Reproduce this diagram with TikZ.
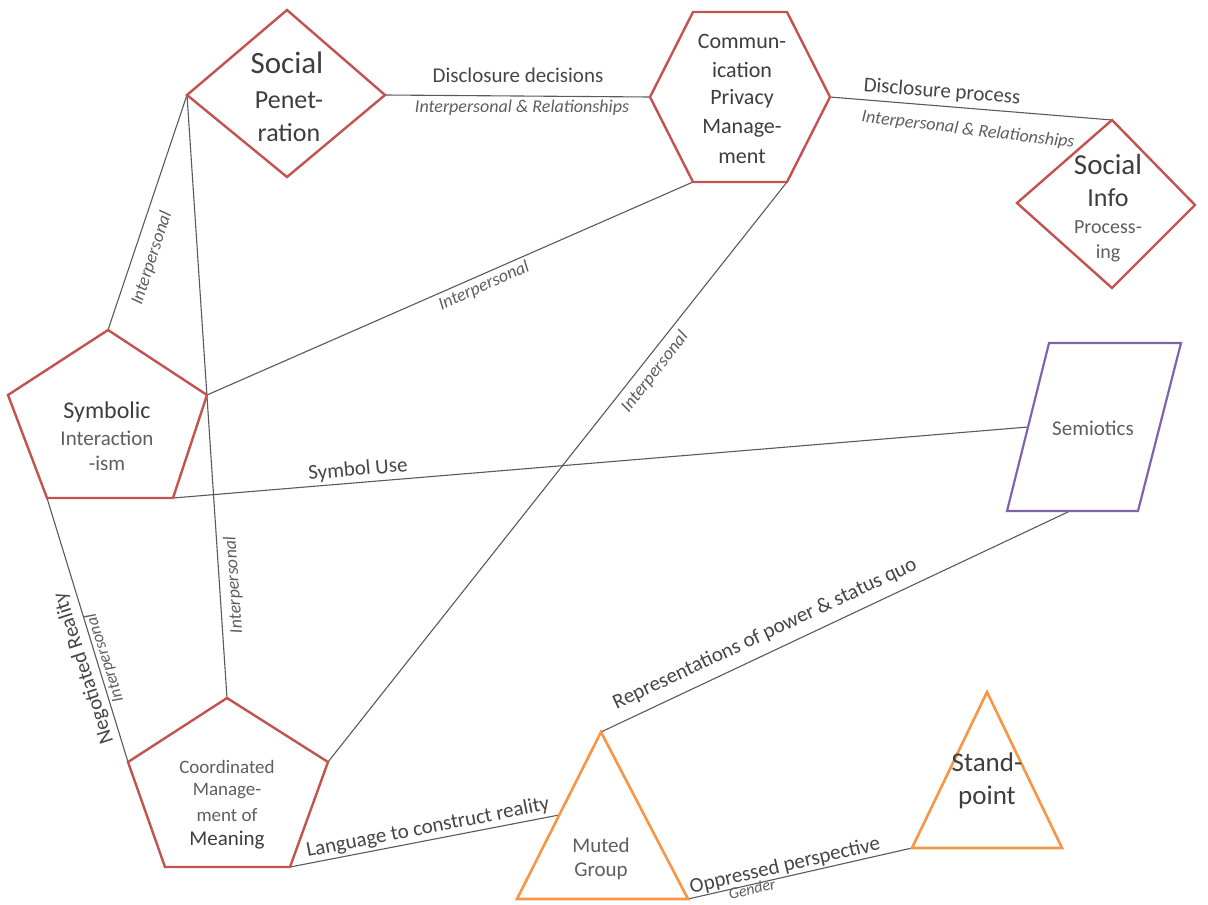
\documentclass[tikz,border=0pt]{standalone}
\usepackage{fontspec}
\setmainfont{Carlito}
\definecolor{shred}{RGB}{196,82,80}
\definecolor{shorange}{RGB}{247,150,70}
\definecolor{shpurple}{RGB}{128,100,170}
\definecolor{txt}{RGB}{62,62,62}
\definecolor{lbl}{RGB}{70,70,70}
\definecolor{ilbl}{RGB}{95,95,95}
\definecolor{conncol}{RGB}{90,90,90}
\newcommand{\fsz}[1]{\fontsize{#1}{#1}\selectfont}
\begin{document}
\begin{tikzpicture}[x=1pt,y=-1pt,
  redshape/.style={draw=shred,line width=2.4pt,line join=miter},
  orangeshape/.style={draw=shorange,line width=2.6pt,line join=miter},
  purpleshape/.style={draw=shpurple,line width=2.2pt,line join=miter},
  connector/.style={draw=conncol,line width=1.1pt},
  lab/.style={text=lbl,inner sep=0pt,font=\fsz{21}},
  ilab/.style={text=ilbl,inner sep=0pt,font=\fsz{18}\itshape},
  ttl/.style={text=txt,inner sep=0pt}]
\useasboundingbox (0,0) rectangle (1208,905);
\fill[white] (0,0) rectangle (1208,905);

% --- vertices ---
% Social Penetration
\coordinate (spT) at (287,10); \coordinate (spR) at (385,95);
\coordinate (spB) at (287,177); \coordinate (spL) at (187,95);
% Communication Privacy Management
\coordinate (cpA) at (693,12); \coordinate (cpB) at (787,12);
\coordinate (cpR) at (830,97); \coordinate (cpC) at (787,182);
\coordinate (cpD) at (693,182); \coordinate (cpL) at (650,97);
% Social Info Processing
\coordinate (siT) at (1112,120); \coordinate (siR) at (1195,205);
\coordinate (siB) at (1112,288); \coordinate (siL) at (1017,203);
% Symbolic Interactionism
\coordinate (syT) at (108,330); \coordinate (syR) at (207,395);
\coordinate (syBR) at (173,498); \coordinate (syBL) at (47,498);
\coordinate (syL) at (8,395);
% Coordinated Management of Meaning
\coordinate (cmT) at (227,698); \coordinate (cmR) at (328,762);
\coordinate (cmBR) at (290,867); \coordinate (cmBL) at (165,867);
\coordinate (cmL) at (128,762);
% Semiotics
\coordinate (seTL) at (1049,343); \coordinate (seTR) at (1181,343);
\coordinate (seBR) at (1138,511); \coordinate (seBL) at (1007,511);
\coordinate (seLeft) at (1028,427); \coordinate (seBot) at (1070,511);
% Muted Group
\coordinate (mgT) at (601,732); \coordinate (mgBL) at (517,899);
\coordinate (mgBR) at (688,899); \coordinate (mgLeft) at (559,815);
% Standpoint
\coordinate (stT) at (987,692); \coordinate (stBL) at (912,848);
\coordinate (stBR) at (1062,848);

% --- connectors ---
\draw[connector] (spR) -- (cpL);
\draw[connector] (cpR) -- (siT);
\draw[connector] (spL) -- (syT);
\draw[connector] (spL) -- (cmT);
\draw[connector] (syR) -- (cpD);
\draw[connector] (cpC) -- (cmR);
\draw[connector] (syBR) -- (seLeft);
\draw[connector] (syBL) -- (cmL);
\draw[connector] (cmBR) -- (mgLeft);
\draw[connector] (mgT) -- (seBot);
\draw[connector] (mgBR) -- (stBL);

% --- shapes ---
\draw[redshape] (spT) -- (spR) -- (spB) -- (spL) -- cycle;
\draw[redshape] (cpA) -- (cpB) -- (cpR) -- (cpC) -- (cpD) -- (cpL) -- cycle;
\draw[redshape] (siT) -- (siR) -- (siB) -- (siL) -- cycle;
\draw[redshape] (syT) -- (syR) -- (syBR) -- (syBL) -- (syL) -- cycle;
\draw[redshape] (cmT) -- (cmR) -- (cmBR) -- (cmBL) -- (cmL) -- cycle;
\draw[purpleshape] (seTL) -- (seTR) -- (seBR) -- (seBL) -- cycle;
\draw[orangeshape] (mgT) -- (mgBR) -- (mgBL) -- cycle;
\draw[orangeshape] (stT) -- (stBR) -- (stBL) -- cycle;

% --- shape texts ---
\node[ttl,font=\fsz{31}] (sp1) at (287,63) {Social};
\node[ttl,font=\fsz{26}] (sp2) at (289,100) {Penet-};
\node[ttl,font=\fsz{26}] (sp3) at (289,133) {ration};

\node[ttl,font=\fsz{22}] (cp1) at (742,41) {Commun-};
\node[ttl,font=\fsz{22}] (cp2) at (742,70) {ication};
\node[ttl,font=\fsz{22}] (cp3) at (742,99) {Privacy};
\node[ttl,font=\fsz{22}] (cp4) at (742,128) {Manage-};
\node[ttl,font=\fsz{22}] (cp5) at (742,157) {ment};

\node[ttl,font=\fsz{29}] (si1) at (1108,165) {Social};
\node[ttl,font=\fsz{26}] (si2) at (1108,198) {Info};
\node[ttl,font=\fsz{20},text=ilbl] (si3) at (1108,227) {Process-};
\node[ttl,font=\fsz{20},text=ilbl] (si4) at (1108,253) {ing};

\node[ttl,font=\fsz{24}] (sy1) at (107,412) {Symbolic};
\node[ttl,font=\fsz{21},text=ilbl] (sy2) at (107,438) {Interaction};
\node[ttl,font=\fsz{21},text=ilbl] (sy3) at (107,463) {-ism};

\node[ttl,font=\fsz{19},text=ilbl] (cm1) at (227,767) {Coordinated};
\node[ttl,font=\fsz{19},text=ilbl] (cm2) at (227,791) {Manage-};
\node[ttl,font=\fsz{19},text=ilbl] (cm3) at (227,815) {ment of};
\node[ttl,font=\fsz{21}] (cm4) at (227,840) {Meaning};

\node[ttl,font=\fsz{21},text=ilbl] (se1) at (1093,428) {Semiotics};

\node[ttl,font=\fsz{21},text=ilbl] (mg1) at (601,845) {Muted};
\node[ttl,font=\fsz{21},text=ilbl] (mg2) at (601,871) {Group};

\node[ttl,font=\fsz{27}] (st1) at (987,762) {Stand-};
\node[ttl,font=\fsz{27}] (st2) at (987,797) {point};

% --- connector labels ---
\node[lab] (l1) at (518,75) {Disclosure decisions};
\node[ilab] (l2) at (522,108) {Interpersonal \& Relationships};
\node[lab,rotate=-4.5] (l3) at (942,92) {Disclosure process};
\node[ilab,rotate=-7] (l4) at (968,130) {Interpersonal \& Relationships};
\node[ilab,rotate=72] (l5) at (152,258) {Interpersonal};
\node[ilab,rotate=94] (l6) at (234,585) {Interpersonal};
\node[ilab,rotate=24] (l7) at (484,286) {Interpersonal};
\node[ilab,rotate=52] (l8) at (655,372) {Interpersonal};
\node[lab,rotate=5] (l9) at (358,470) {Symbol Use};
\node[lab,rotate=108] (l10) at (84,668) {Negotiated Reality};
\node[ilab,rotate=108,font=\fsz{17}\itshape] (l11) at (105,658) {Interpersonal};
\node[lab,rotate=11] (l12) at (428,828) {Language to construct reality};
\node[lab,rotate=25] (l13) at (765,634) {Representations of power \& status quo};
\node[lab,rotate=13] (l14) at (785,866) {Oppressed perspective};
\node[ilab,rotate=13,font=\fsz{16}\itshape] (l15) at (752,889) {Gender};
\end{tikzpicture}
\end{document}
